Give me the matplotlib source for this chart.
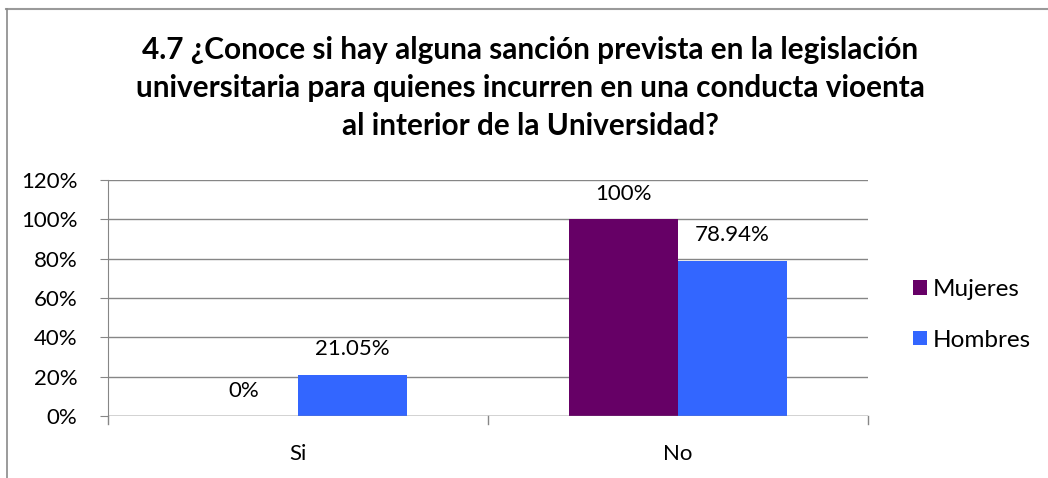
import matplotlib
matplotlib.use("Agg")
import matplotlib.pyplot as plt
from matplotlib.lines import Line2D
from matplotlib.patches import Patch
import numpy as np

categories = ["Si", "No"]
series_names = ["Mujeres", "Hombres"]
mujeres = [0.0, 100.0]
hombres = [21.05, 78.94]
mujeres_labels = ["0%", "100%"]
hombres_labels = ["21.05%", "78.94%"]
yticks = [0, 20, 40, 60, 80, 100, 120]
ytick_labels = ["0%", "20%", "40%", "60%", "80%", "100%", "120%"]
title = ("4.7 ¿Conoce si hay alguna sanción prevista en la legislación\n"
         "universitaria para quienes incurren en una conducta vioenta\n"
         "al interior de la Universidad?")

colors = ["#660066", "#3366FF"]
font = "Lato"
plt.rcParams['font.family'] = [font, 'DejaVu Sans']

W, H = 1048, 478
fig = plt.figure(figsize=(W / 100, H / 100), dpi=100)
ax = fig.add_axes([108 / W, (H - 416) / H, 760 / W, 236 / H])

x = np.arange(len(categories))
bw = 0.287
b1 = ax.bar(x - bw / 2, mujeres, bw, color=colors[0], zorder=3)
b2 = ax.bar(x + bw / 2, hombres, bw, color=colors[1], zorder=3)

for bars, labels in ((b1, mujeres_labels), (b2, hombres_labels)):
    for r, lab in zip(bars, labels):
        ax.annotate(lab, (r.get_x() + r.get_width() / 2, r.get_height()),
                    xytext=(0, 11), textcoords="offset points",
                    ha="center", va="bottom", fontsize=16, color="#000000")

ax.set_xlim(-0.5, len(categories) - 0.5)
ax.set_ylim(0, 120)
ax.set_yticks(yticks)
ax.set_yticklabels(ytick_labels, fontsize=16)
ax.set_xticks(x)
ax.set_xticklabels(categories, fontsize=16)
ax.tick_params(axis="x", length=0, pad=20)
ax.tick_params(axis="y", length=6, color="#868686", pad=16)
ax.grid(axis="y", color="#868686", linewidth=1, zorder=0)
for s in ["top", "right", "bottom"]:
    ax.spines[s].set_visible(False)
ax.spines["left"].set_color("#868686")
ax.axhline(0, color="#868686", linewidth=1, zorder=4)
# category separator ticks
for xv in [-0.5, 0.5, 1.5]:
    ax.plot([xv, xv], [0, -0.034], transform=ax.get_xaxis_transform(),
            color="#868686", linewidth=1, clip_on=False)

fig.text(530 / W, 1 - 88 / H, title, ha="center", va="center",
         fontsize=21.4, fontweight="bold", linespacing=1.42)

handles = [Patch(facecolor=c, edgecolor="none") for c in colors]
fig.legend(handles, series_names, loc="center left",
           bbox_to_anchor=(894 / W, 1 - 315 / H), frameon=False,
           fontsize=17.5, handlelength=0.55, handleheight=0.55,
           handletextpad=0.25, labelspacing=1.2, borderpad=0.3)

# chart border (top and left visible)
fig.add_artist(Line2D([6 / W, 1], [1 - 8.5 / H, 1 - 8.5 / H], color="#9a9a9a", linewidth=1.5))
fig.add_artist(Line2D([6.5 / W, 6.5 / W], [0, 1 - 8.5 / H], color="#8a8a8a", linewidth=1.2))

fig.savefig("out.png", dpi=100)
